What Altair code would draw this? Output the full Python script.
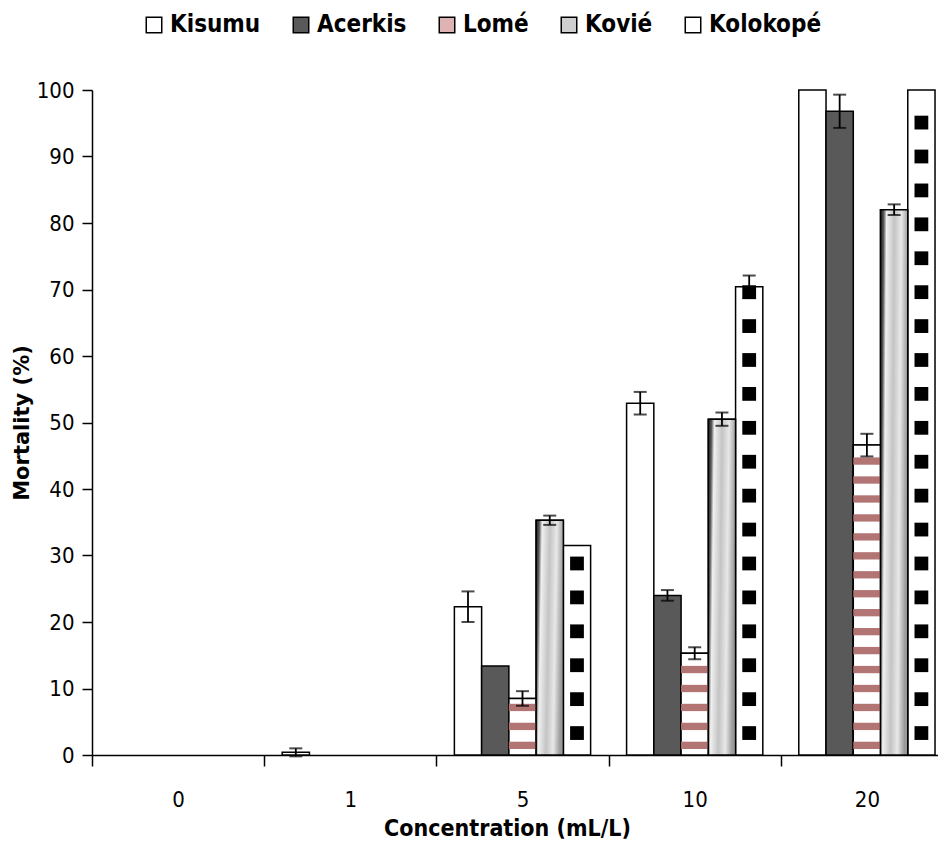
import altair as alt
import pandas as pd

concentrations = ["0", "1", "5", "10", "20"]
series = ["Kisumu", "Acerkis", "Lomé", "Kovié", "Kolokopé"]

kisumu = [0, 0.4, 22.3, 52.9, 100]
kisumu_err = [0, 0.6, 2.3, 1.7, 0]
acerkis = [0, 0, 13.4, 24.0, 96.8]
acerkis_err = [0, 0, 0, 0.8, 2.5]
lome = [0, 0, 8.5, 15.3, 46.6]
lome_err = [0, 0, 1.1, 0.9, 1.7]
kovie = [0, 0, 35.3, 50.5, 82.0]
kovie_err = [0, 0, 0.7, 1.0, 0.8]
kolokope = [0, 0, 31.5, 70.4, 100]
kolokope_err = [0, 0, 0, 1.7, 0]

values = [kisumu, acerkis, lome, kovie, kolokope]
errors = [kisumu_err, acerkis_err, lome_err, kovie_err, kolokope_err]

rows = []
for s, vals, errs in zip(series, values, errors):
    for c, v, e in zip(concentrations, vals, errs):
        rows.append({"conc": c, "series": s, "value": v, "err": e,
                     "lo": v - e, "hi": min(v + e, 100.6)})
df = pd.DataFrame(rows)

legend_colors = ["#ffffff", "#595959", "#ddb3b3", "#cfcfcf", "#ffffff"]

PLOT_W = 846          # visible plot width (the last group runs off the edge, as in the source)
BAND_RANGE = 861      # full extent of the five groups
PLOT_H = 665
GROUP_W = BAND_RANGE / len(concentrations)

NARROW = "'DejaVu Sans Condensed', Roboto, sans-serif"

x_scale = alt.Scale(domain=concentrations, paddingInner=0, paddingOuter=0,
                    range=[0, BAND_RANGE])
x_enc = alt.X("conc:N", sort=concentrations, scale=x_scale,
              axis=alt.Axis(title="Concentration (mL/L)", labelAngle=0,
                            tickOffset=-GROUP_W / 2, labelOffset=GROUP_W / 2,
                            tickSize=11, tickColor="black", domainColor="black",
                            tickWidth=1.5, domainWidth=1.5,
                            labelFont=NARROW, labelFontSize=22, labelColor="black",
                            labelPadding=23, titleFont=NARROW, titleFontSize=23,
                            titleFontWeight="bold", titleColor="black", titlePadding=7,
                            titleX=PLOT_W / 2 - 8))
x_plain = alt.X("conc:N", sort=concentrations, scale=x_scale)
xoff = alt.XOffset("series:N", sort=series,
                   scale=alt.Scale(domain=series, paddingInner=0, paddingOuter=0.66))
y_scale = alt.Scale(domain=[0, 100], nice=False)
y_enc = alt.Y("value:Q", scale=y_scale,
              axis=alt.Axis(title="Mortality (%)", values=list(range(0, 101, 10)),
                            grid=False, tickSize=10, tickColor="black",
                            domainColor="black", tickWidth=1.5, domainWidth=1.5,
                            labelFont=NARROW, labelFontSize=22, labelColor="black",
                            labelPadding=8, titleFont="DejaVu Sans", titleFontSize=21,
                            titleFontWeight="bold", titleColor="black", titlePadding=4))

base = alt.Chart(df).transform_filter("datum.value > 0")

bars = base.mark_bar(stroke="black", strokeWidth=1.5).encode(
    x=x_enc, xOffset=xoff, y=y_enc,
    fill=alt.Fill("series:N", sort=series,
                  scale=alt.Scale(domain=series, range=legend_colors),
                  legend=alt.Legend(title=None, orient="none", direction="horizontal",
                                    legendX=50, legendY=-77, symbolType="square",
                                    symbolSize=240, symbolStrokeColor="black",
                                    symbolStrokeWidth=1.5, labelFont=NARROW,
                                    labelFontSize=24, labelFontWeight="bold",
                                    labelColor="black", columnPadding=28,
                                    labelOffset=4, labelLimit=300)),
)

lome_white = base.transform_filter("datum.series == 'Lomé'").mark_bar(
    fill="white", stroke="black", strokeWidth=1.5).encode(
    x=x_plain, xOffset=xoff, y=alt.Y("value:Q", scale=y_scale))

stripes = (base.transform_filter("datum.series == 'Lomé'")
           .transform_calculate(s="sequence(0.9, datum.value - 0.6, 2.85)")
           .transform_flatten(["s"])
           .transform_calculate(s2="min(datum.s + 1.1, datum.value)")
           .mark_bar(fill="#b37474")
           .encode(x=x_plain, xOffset=xoff,
                   y=alt.Y("s:Q", scale=y_scale), y2="s2:Q"))

gradient = {"gradient": "linear", "x1": 0, "y1": 0, "x2": 1, "y2": 0.15,
            "stops": [{"offset": 0, "color": "#1a1a1a"},
                      {"offset": 0.12, "color": "#5a5a5a"},
                      {"offset": 0.22, "color": "#f0f0f0"},
                      {"offset": 0.5, "color": "#c4c4c4"},
                      {"offset": 0.75, "color": "#e8e8e8"},
                      {"offset": 1, "color": "#9a9a9a"}]}
kovie_bars = base.transform_filter("datum.series == 'Kovié'").mark_bar(
    fill=gradient, stroke="black", strokeWidth=1.5).encode(
    x=x_plain, xOffset=xoff, y=alt.Y("value:Q", scale=y_scale))

squares = (base.transform_filter("datum.series == 'Kolokopé'")
           .transform_calculate(q="sequence(3.3, datum.value - 0.5, 5.1)")
           .transform_flatten(["q"])
           .mark_point(shape="square", filled=True, color="black", size=190, opacity=1)
           .encode(x=x_plain, xOffset=xoff, y=alt.Y("q:Q", scale=y_scale)))

err_base = alt.Chart(df).transform_filter("datum.err > 0")
err_rule = err_base.mark_rule(color="black", strokeWidth=1.8).encode(
    x=x_plain, xOffset=xoff, y=alt.Y("lo:Q", scale=y_scale), y2="hi:Q")
cap_lo = err_base.mark_tick(color="black", size=13, thickness=2, orient="horizontal").encode(
    x=x_plain, xOffset=xoff, y=alt.Y("lo:Q", scale=y_scale))
cap_hi = err_base.mark_tick(color="black", size=13, thickness=2, orient="horizontal").encode(
    x=x_plain, xOffset=xoff, y=alt.Y("hi:Q", scale=y_scale))

chart = alt.layer(bars, lome_white, stripes, kovie_bars, squares, err_rule, cap_lo, cap_hi).properties(
    width=PLOT_W, height=PLOT_H,
    background="white",
    autosize=alt.AutoSizeParams(type="none"),
    padding={"left": 84, "right": 0, "top": 82, "bottom": 86},
).configure_view(stroke=None)

chart.save("out.html", embed_options={"renderer": "svg", "actions": False})
